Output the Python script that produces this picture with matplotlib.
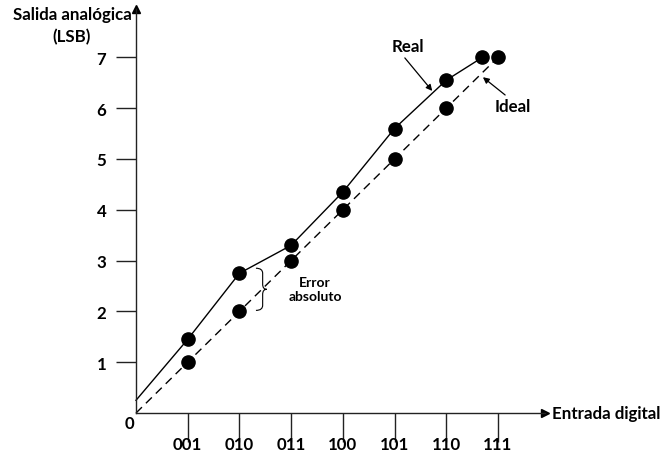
import matplotlib
matplotlib.use("Agg")
import matplotlib.pyplot as plt
from matplotlib.path import Path
from matplotlib.patches import PathPatch

plt.rcParams['font.family'] = ['Lato', 'DejaVu Sans']
plt.rcParams['font.weight'] = 'bold'

# Digital input codes and transfer characteristic values (in LSB)
codes = ["001", "010", "011", "100", "101", "110", "111"]
code_pos = [1, 2, 3, 4, 5, 6, 7]
ideal_x = [1, 2, 3, 4, 5, 6, 7]
ideal_y = [1, 2, 3, 4, 5, 6, 7]
real_x = [1, 2, 3, 4, 5, 6, 6.7]
real_y = [1.45, 2.75, 3.3, 4.35, 5.6, 6.55, 7.0]
real_offset = 0.25          # output at code 0
y_ticks = [1, 2, 3, 4, 5, 6, 7]

FS = 12.2
W, H = 663, 452
fig = plt.figure(figsize=(W / 100, H / 100), dpi=100)
x0, y0 = 136, 38
ax_w, ax_h = 409, 404
ax = fig.add_axes([x0 / W, y0 / H, ax_w / W, ax_h / H])
ax.set_xlim(0, ax_w / 51.7)
ax.set_ylim(0, ax_h / 50.8)

for s in ("top", "right"):
    ax.spines[s].set_visible(False)
for s in ("left", "bottom"):
    ax.spines[s].set_linewidth(1.0)
    ax.spines[s].set_color("#222222")

ax.set_yticks(y_ticks)
ax.set_yticklabels([str(v) for v in y_ticks], fontsize=FS, fontweight='bold')
ax.set_xticks(code_pos)
ax.set_xticklabels(codes, fontsize=FS, fontweight='bold')
ax.tick_params(axis='y', direction='out', length=14.4, width=1.0, pad=7, color="#222222")
ax.tick_params(axis='x', direction='out', length=21, width=1.0, pad=-4.5, color="#222222")

# Axis arrowheads
xmax = ax.get_xlim()[1]
ymax = ax.get_ylim()[1]
ax.plot([xmax], [0], marker='>', color='black', markersize=6, clip_on=False)
ax.plot([0], [ymax], marker='^', color='black', markersize=6, clip_on=False)

# Ideal (dashed) and real (solid) characteristics
ax.plot([0] + ideal_x, [0] + ideal_y, color='black', lw=1.0,
        linestyle=(0, (6, 4)), clip_on=False)
ax.plot([0] + real_x, [real_offset] + real_y, color='black', lw=1.0, clip_on=False)
ax.plot(ideal_x, ideal_y, 'o', color='black', markersize=9.5, clip_on=False)
ax.plot(real_x, real_y, 'o', color='black', markersize=9.5, clip_on=False)

# Brace showing absolute error at code 010
bx = ideal_x[1] + 0.45
top, bot = real_y[1] + 0.1, ideal_y[1] + 0.02
mid = (top + bot) / 2
dx = 0.13
verts = [(bx - dx, top), (bx, top), (bx, top - 0.1),
         (bx, mid + 0.1), (bx, mid), (bx + dx * 0.6, mid),
         (bx, mid), (bx, mid - 0.1),
         (bx, bot + 0.1), (bx, bot), (bx - dx, bot)]
codes_path = [Path.MOVETO, Path.CURVE3, Path.CURVE3,
              Path.LINETO, Path.CURVE3, Path.CURVE3,
              Path.CURVE3, Path.CURVE3,
              Path.LINETO, Path.CURVE3, Path.CURVE3]
ax.add_patch(PathPatch(Path(verts, codes_path), fill=False, lw=0.8,
                       edgecolor='black', clip_on=False))
ax.text(3.46, 2.44, "Error\nabsoluto", ha='center', va='center',
        fontsize=10, fontweight='bold', linespacing=1.15)

# Labels with arrows
arrow = dict(arrowstyle='-|>', color='black', lw=0.9, mutation_scale=9,
             shrinkA=0, shrinkB=0)
ax.text(5.26, 7.22, "Real", ha='center', va='center', fontsize=FS, fontweight='bold')
ax.annotate("", xy=(5.73, 6.34), xytext=(5.20, 6.99), arrowprops=arrow)
ax.text(7.29, 6.04, "Ideal", ha='center', va='center', fontsize=FS, fontweight='bold')
ax.annotate("", xy=(6.71, 6.61), xytext=(7.14, 6.26), arrowprops=arrow)

ax.text(-0.12, -0.2, "0", ha='center', va='center', fontsize=FS, fontweight='bold')
ax.text(xmax + 0.13, 0, "Entrada digital", ha='left', va='center',
        fontsize=FS, fontweight='bold', clip_on=False)
fig.text(72 / W, 1 - 15 / H, "Salida analógica", ha='center', va='center',
         fontsize=FS, fontweight='bold')
fig.text(72 / W, 1 - 37 / H, "(LSB)", ha='center', va='center',
         fontsize=FS, fontweight='bold')

fig.savefig("out.png", dpi=100)
